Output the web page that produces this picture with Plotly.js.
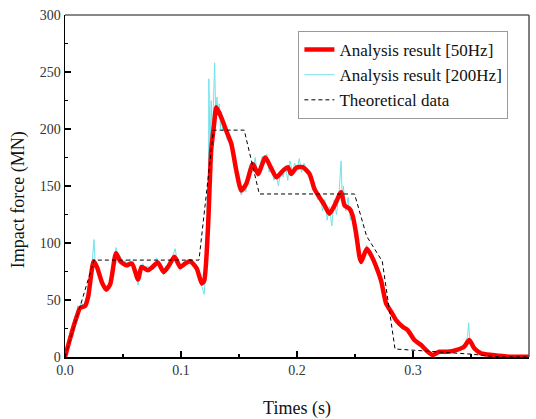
<!DOCTYPE html>
<html>
<head>
<meta charset="utf-8">
<script src="https://cdn.plot.ly/plotly-3.0.1.min.js"></script>
<style>html,body{margin:0;padding:0;background:#fff;}#chart{width:536px;height:419px;}</style>
</head>
<body>
<div id="chart"></div>
<script>
// 50 Hz analysis result
const t50 = [0,0.006,0.010,0.013,0.0175,0.020,0.0247,0.0275,0.032,0.0356,0.039,0.044,0.0476,0.053,0.0577,0.063,0.066,0.0714,0.0749,0.080,0.085,0.0892,0.0944,0.0993,0.1036,0.1078,0.1136,0.1179,0.120,0.1233,0.126,0.1285,0.1305,0.1348,0.139,0.1434,0.1477,0.152,0.1563,0.162,0.1664,0.1727,0.1773,0.1822,0.1879,0.1922,0.195,0.1994,0.205,0.2108,0.215,0.2194,0.2238,0.228,0.2324,0.238,0.241,0.2453,0.248,0.251,0.2539,0.2553,0.2602,0.264,0.268,0.2725,0.2768,0.2811,0.2854,0.2911,0.2954,0.3012,0.307,0.3127,0.317,0.3227,0.33,0.337,0.344,0.3485,0.3528,0.3586,0.3686,0.383,0.4];
const f50 = [0,22,35,43,45,53,84,79,65,59,64,91,84,80.5,82,68,79,76,78.4,83,74.6,79.6,88,79,82,84,77.6,64.5,67,114,181,204,219,210,198.5,187,163.5,146,152,169.4,160.6,175,166.5,157.7,163.5,166.5,160.6,166,166.5,160.6,147.5,140,133,125.7,133,144.6,133,130,124,108,87.7,83.4,95,89,80,67,47,39.7,32.4,26.5,23.6,14.9,10.5,4.6,1.75,4.6,4.6,6,9,15,7.6,3.2,1.75,0.3,0.3];

// 200 Hz analysis result
const t200 = [0,0.003,0.005,0.007,0.009,0.011,0.012,0.014,0.016,0.018,0.020,0.022,0.024,0.025,0.026,0.028,0.030,0.033,0.036,0.039,0.042,0.044,0.046,0.048,0.050,0.052,0.054,0.056,0.058,0.060,0.062,0.063,0.065,0.067,0.069,0.071,0.073,0.075,0.077,0.079,0.081,0.083,0.085,0.087,0.089,0.091,0.093,0.095,0.097,0.099,0.101,0.103,0.105,0.107,0.109,0.111,0.113,0.115,0.117,0.119,0.120,0.121,0.122,0.123,0.1235,0.124,0.125,0.126,0.127,0.128,0.129,0.130,0.131,0.132,0.133,0.134,0.135,0.136,0.138,0.140,0.142,0.144,0.146,0.148,0.150,0.152,0.154,0.156,0.158,0.160,0.162,0.164,0.166,0.168,0.170,0.172,0.174,0.176,0.178,0.180,0.182,0.184,0.186,0.188,0.190,0.192,0.194,0.196,0.198,0.200,0.202,0.204,0.206,0.208,0.210,0.212,0.214,0.216,0.218,0.220,0.222,0.224,0.226,0.228,0.230,0.232,0.234,0.236,0.237,0.238,0.239,0.240,0.242,0.244,0.246,0.248,0.250,0.252,0.254,0.256,0.258,0.260,0.262,0.264,0.266,0.268,0.270,0.272,0.274,0.276,0.278,0.280,0.282,0.284,0.286,0.288,0.290,0.292,0.294,0.296,0.298,0.300,0.302,0.304,0.306,0.308,0.310,0.312,0.315,0.318,0.322,0.326,0.330,0.334,0.338,0.342,0.345,0.347,0.348,0.349,0.352,0.356,0.360,0.366,0.375,0.385,0.400];
const f200 = [0,12,20,18,30,45,38,48,44,50,58,66,90,103,82,80,70,63,60,66,82,96,86,88,80,85,78,86,80,77,72,63,76,82,76,80,75,80,78,87,80,76,72,80,78,84,90,95,82,76,80,84,81,85,82,80,78,72,66,60,55,72,110,150,100,244,180,225,190,226,258,210,228,212,222,200,215,198,205,190,195,180,172,160,148,142,150,145,162,170,165,175,158,168,176,170,178,162,168,155,160,150,164,158,168,155,172,162,170,164,174,162,170,165,158,154,146,150,138,142,128,138,120,132,115,138,125,140,155,172,140,150,128,140,120,130,105,95,85,88,92,98,94,90,86,80,72,66,58,50,44,40,38,35,33,32,28,25,24,22,18,16,14,12,10,9,6,5,3,2,4,5,4,6,7,9,12,18,30,14,8,5,3,2,1,0.5,0.3];

// Theoretical data
const tTh = [0,0.025,0.1155,0.128,0.1545,0.1675,0.2496,0.260,0.2735,0.2845,0.300,0.330,0.350,0.375,0.400];
const fTh = [0,85,85,199,199,143,143,106,84,7,6,4,2.5,0,0];

const names = ['Analysis result [50Hz]','Analysis result [200Hz]','Theoretical data'];

const serif = "'Liberation Serif', 'Times New Roman', Times, serif";

const traces = [
  {x:t200, y:f200, name:names[1], mode:'lines', type:'scatter', legendrank:2,
   line:{color:'#6fe3ea', width:1}},
  {x:t50, y:f50, name:names[0], mode:'lines', type:'scatter', legendrank:1,
   line:{color:'#ff0000', width:4.5, shape:'spline', smoothing:0.6}},
  {x:tTh, y:fTh, name:names[2], mode:'lines', type:'scatter', legendrank:3,
   line:{color:'#000000', width:1, dash:'4px,3px'}}
];

const layout = {
  width:536, height:419,
  margin:{l:65, r:7, t:15, b:62},
  paper_bgcolor:'#fff', plot_bgcolor:'#fff',
  font:{family:serif, color:'#222'},
  showlegend:true,
  legend:{x:0.503, y:0.953, xanchor:'left', yanchor:'top',
    bgcolor:'#fff', bordercolor:'#999', borderwidth:1,
    font:{family:serif, size:17, color:'#111'},
    traceorder:'normal', itemwidth:30, tracegroupgap:0},
  xaxis:{range:[0,0.4], tickvals:[0,0.1,0.2,0.3,0.4], ticktext:['0.0','0.1','0.2','0.3','0.4'],
    ticks:'inside', ticklen:6, tickwidth:1.5, tickcolor:'#000',
    minor:{tickvals:[0.05,0.15,0.25,0.35], ticks:'inside', ticklen:3, tickwidth:1.2, tickcolor:'#000'},
    showline:true, linecolor:'#000', linewidth:1.5, showgrid:false, zeroline:false,
    tickfont:{family:serif, size:14, color:'#333'},
    title:{text:'Times (s)', font:{family:serif, size:18, color:'#111'}, standoff:25}},
  yaxis:{range:[0,300], tickvals:[0,50,100,150,200,250,300],
    ticks:'inside', ticklen:6, tickwidth:1.5, tickcolor:'#000',
    minor:{tickvals:[25,75,125,175,225,275], ticks:'inside', ticklen:3, tickwidth:1.2, tickcolor:'#000'},
    showline:true, linecolor:'#000', linewidth:1.5, showgrid:false, zeroline:false,
    tickfont:{family:serif, size:14, color:'#333'}},
  annotations:[
    {text:'Impact force (MN)', xref:'paper', yref:'paper', x:-0.101, y:0.459,
     xanchor:'center', yanchor:'middle', textangle:-90, showarrow:false,
     font:{family:serif, size:18, color:'#111'}}
  ],
  shapes:[
    {type:'line', xref:'paper', yref:'paper', x0:0, x1:1, y0:1, y1:1, line:{color:'#888', width:2}},
    {type:'line', xref:'paper', yref:'paper', x0:1, x1:1, y0:0, y1:1, line:{color:'#555', width:1.5}}
  ]
};

Plotly.newPlot('chart', traces, layout, {displayModeBar:false, staticPlot:true});
</script>
</body>
</html>
